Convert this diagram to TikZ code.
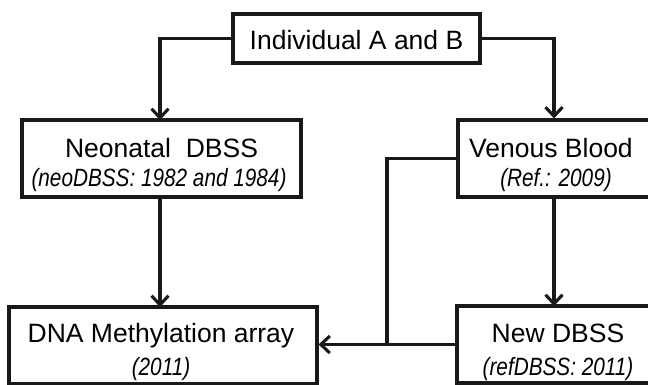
\documentclass[tikz,border=0pt]{standalone}
\usepackage{fontspec}
\setmainfont{Liberation Sans}
\newfontfamily\condfont[FakeStretch=0.83]{Liberation Sans}
\usetikzlibrary{arrows.meta}
\tikzset{
  box/.style={draw=black!90, line width=3.1pt, rectangle, inner sep=0pt, fill=white},
  conn/.style={draw=black!90, line width=3.1pt},
  arr/.style={conn, -{Straight Barb[length=9pt,width=17pt,line width=3.1pt]}},
  big/.style={inner sep=0pt, anchor=base, font=\fontsize{26.5}{28}\selectfont},
  small/.style={inner sep=0pt, anchor=base, font=\condfont\fontsize{25}{27}\selectfont\itshape},
}
\begin{document}
\begin{tikzpicture}[x=1pt,y=-1pt]
\useasboundingbox (0,0) rectangle (648,384);
% boxes
\node[box, minimum width=247pt, minimum height=49pt] (top) at (356.5,38.5) {};
\node[box, minimum width=279pt, minimum height=77pt] (neo) at (161.5,158.5) {};
\node[box, minimum width=196pt, minimum height=77pt] (ven) at (556,158.5) {};
\node[box, minimum width=308pt, minimum height=77pt] (dna) at (163,345.5) {};
\node[box, minimum width=201pt, minimum height=77pt] (new) at (557.5,344.5) {};
% texts
\node[big] (topt) at (356.5,49) {Individual A and B};
\node[big] (neot1) at (161.5,157) {Neonatal\ \ DBSS};
\node[small] (neot2) at (159,186) {(neoDBSS: 1982 and 1984)};
\node[big] (vent1) at (551,157) {Venous Blood};
\node[small] (vent2) at (556,186) {(Ref.: 2009)};
\node[big] (dnat1) at (161,342) {DNA Methylation array};
\node[small] (dnat2) at (161,375) {(2011)};
\node[big] (newt1) at (558,342) {New DBSS};
\node[small] (newt2) at (558,375) {(refDBSS: 2011)};
% connectors
\coordinate (j) at (387,345);
\draw[arr] (top.west) -| (160,120);
\draw[arr] (top.east) -| (ven.north -| 554,0);
\draw[arr] (neo.south -| 160,0) -- (160,307);
\draw[arr] (ven.south -| 554,0) -- (554,306);
\draw[conn] (ven.west) -| (j);
\draw[arr] (new.west) -- (new.west -| dna.east);
\end{tikzpicture}
\end{document}
